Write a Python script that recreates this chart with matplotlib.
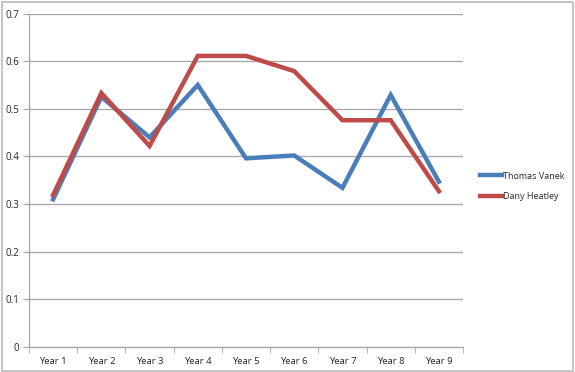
import matplotlib
matplotlib.use("Agg")
import matplotlib.pyplot as plt
from matplotlib.lines import Line2D

years = ["Year 1", "Year 2", "Year 3", "Year 4", "Year 5",
         "Year 6", "Year 7", "Year 8", "Year 9"]
vanek = [0.310, 0.525, 0.440, 0.550, 0.396, 0.402, 0.334, 0.529, 0.347]
heatley = [0.319, 0.533, 0.422, 0.611, 0.611, 0.579, 0.476, 0.476, 0.327]

blue = "#4a7ebb"
red = "#be4b48"

plt.rcParams["font.family"] = ["Open Sans", "DejaVu Sans"]

fig = plt.figure(figsize=(5.75, 3.72), dpi=100)
ax = fig.add_axes([29 / 575, 1 - 347 / 372, 434 / 575, (347 - 13.5) / 372])

x = range(len(years))
ax.plot(x, vanek, color=blue, lw=3.2, solid_joinstyle="miter")
ax.plot(x, heatley, color=red, lw=3.2, solid_joinstyle="miter")

ax.set_xlim(-0.5, len(years) - 0.5)
ax.set_ylim(0, 0.7)
ax.set_yticks([0, 0.1, 0.2, 0.3, 0.4, 0.5, 0.6, 0.7])
ax.set_yticklabels(["0", "0.1", "0.2", "0.3", "0.4", "0.5", "0.6", "0.7"])
ax.set_xticks(list(x))
ax.set_xticklabels(years)
ax.set_xticks([i - 0.5 for i in range(len(years) + 1)], minor=True)

ax.grid(axis="y", color="#a6a6a6", lw=0.9)
ax.set_axisbelow(True)
for s in ["top", "right"]:
    ax.spines[s].set_visible(False)
for s in ["left", "bottom"]:
    ax.spines[s].set_color("#a6a6a6")
    ax.spines[s].set_linewidth(0.9)

ax.tick_params(axis="y", which="major", length=4, color="#a6a6a6",
               labelsize=7, labelcolor="#262626", pad=3)
ax.tick_params(axis="x", which="major", length=0, labelsize=6.8,
               labelcolor="#262626", pad=7)
ax.tick_params(axis="x", which="minor", length=4, color="#a6a6a6", direction="out")

handles = [Line2D([], [], color=blue, lw=3.2), Line2D([], [], color=red, lw=3.2)]
fig.legend(handles, ["Thomas Vanek", "Dany Heatley"], loc="center left",
           bbox_to_anchor=(480 / 575, 1 - 186.5 / 372), frameon=False,
           borderpad=0, borderaxespad=0,
           fontsize=6.5, handlelength=2.4, handletextpad=0.1, labelspacing=1.3,
           labelcolor="#262626")

# light frame round the whole chart
fig.patches.append(plt.Rectangle((1.5 / 575, 1.5 / 372), 571.5 / 575, 369 / 372,
                                 transform=fig.transFigure, fill=False,
                                 edgecolor="#bfbfbf", lw=1.3))

fig.savefig("out.png", dpi=100)
